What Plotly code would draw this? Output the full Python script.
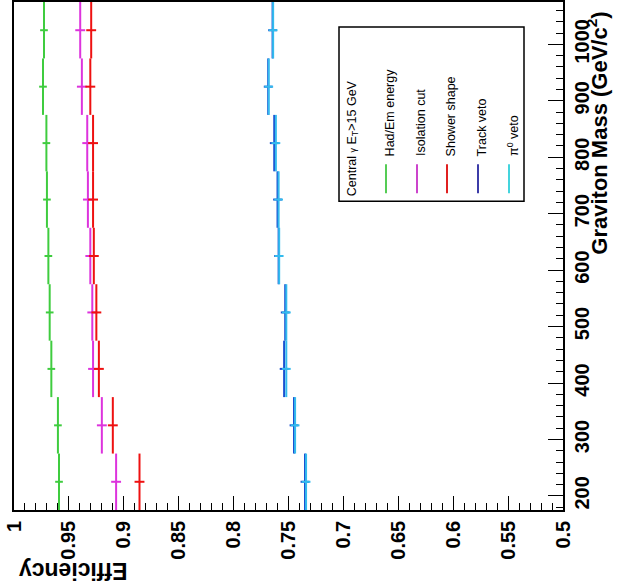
import plotly.graph_objects as go

# Graviton mass bins (GeV/c^2): bin centres and half-width
mass_centers = [225, 325, 425, 525, 625, 725, 825, 925, 1025]
bin_half_width = 50
mass_range = [175, 1075]
mass_ticks = [200, 300, 400, 500, 600, 700, 800, 900, 1000]
mass_ticktext = ["200", "300", "400", "500", "600", "700", "800", "900", "1000"]

eff_ticks = [1.0, 0.95, 0.9, 0.85, 0.8, 0.75, 0.7, 0.65, 0.6, 0.55, 0.5]
eff_ticktext = ["1", "0.95", "0.9", "0.85", "0.8", "0.75", "0.7", "0.65", "0.6", "0.55", "0.5"]

# Cumulative cut efficiencies per mass bin
had_em = [0.959, 0.960, 0.966, 0.9675, 0.9687, 0.970, 0.9705, 0.9736, 0.9727]
had_em_err = [0.0035] * 9
isolation = [0.907, 0.920, 0.928, 0.9287, 0.9305, 0.9327, 0.9333, 0.9382, 0.9397]
isolation_err = [0.0045] * 9
shower = [0.8857, 0.910, 0.9227, 0.925, 0.9273, 0.928, 0.928, 0.9305, 0.9297]
shower_err = [0.0045] * 9
track_veto = [0.735, 0.745, 0.754, 0.753, 0.759, 0.760, 0.763, 0.7685, 0.7645]
track_err = [0.004] * 9
pi0_veto = [0.734, 0.744, 0.752, 0.752, 0.7585, 0.759, 0.7615, 0.768, 0.764]
pi0_err = [0.004] * 9

series = [
    ("Had/Em energy", had_em, had_em_err, "#3fcc3f"),
    ("Isolation cut", isolation, isolation_err, "#dd33dd"),
    ("Shower shape", shower, shower_err, "#ee1111"),
    ("Track veto", track_veto, track_err, "#1a50d0"),
    ("π<sup>0</sup> veto", pi0_veto, pi0_err, "#33bbee"),
]
legend_colors = ["#55cc55", "#cc44cc", "#e02020", "#3c3ca8", "#44d4dd"]

fig = go.Figure()
for name, vals, errs, col in series:
    fig.add_trace(go.Scatter(
        x=vals, y=mass_centers, mode="markers", name=name,
        marker=dict(size=1, color=col, opacity=0),
        error_x=dict(type="data", array=errs, color=col, thickness=2, width=0),
        error_y=dict(type="data", array=[bin_half_width] * len(vals),
                     color=col, thickness=2, width=0),
        showlegend=False,
    ))

bold = dict(family="Liberation Sans", size=20, color="black", weight="bold")

fig.update_layout(
    width=621, height=586,
    margin=dict(l=14, r=58, t=0, b=76),
    paper_bgcolor="white", plot_bgcolor="white",
    xaxis=dict(
        range=[1.0, 0.5], tickmode="array", tickvals=eff_ticks, ticktext=eff_ticktext,
        tickangle=-90, tickfont=bold, ticks="inside", ticklen=14, tickwidth=1.2,
        tickcolor="black", ticklabelstandoff=1,
        minor=dict(tickmode="linear", tick0=0.5, dtick=0.01, ticks="inside",
                   ticklen=7, tickwidth=1.2, tickcolor="black"),
        showgrid=False, zeroline=False, showline=True, linecolor="black",
        linewidth=1.5, mirror=True,
    ),
    yaxis=dict(
        range=mass_range, side="right", tickmode="array", tickvals=mass_ticks,
        ticktext=mass_ticktext, tickangle=-90, tickfont=bold, ticks="inside",
        ticklen=15, tickwidth=1.2, tickcolor="black", ticklabelstandoff=0,
        minor=dict(tickmode="linear", tick0=200, dtick=20, ticks="inside",
                   ticklen=7, tickwidth=1.2, tickcolor="black"),
        showgrid=False, zeroline=False, showline=True, linecolor="black",
        linewidth=1.5, mirror=True,
    ),
)

# Axis titles
fig.add_annotation(text="Efficiency", xref="paper", yref="paper",
                   x=0.005, y=-0.12, xanchor="left", yanchor="middle",
                   textangle=180, showarrow=False,
                   font=dict(family="Liberation Sans", size=23, color="black", weight="bold"))
fig.add_annotation(text="Graviton Mass (GeV/c<sup>2</sup>)", xref="paper", yref="paper",
                   x=1.063, y=0.985, xanchor="center", yanchor="top",
                   textangle=-90, showarrow=False,
                   font=dict(family="Liberation Sans", size=22, color="black", weight="bold"))

# Legend box
def px_x(p):
    return (p - 14) / 549.0


def px_y(p):
    return (510 - p) / 510.0


fig.add_shape(type="rect", xref="paper", yref="paper",
              x0=px_x(339), x1=px_x(524), y0=px_y(200), y1=px_y(25),
              line=dict(color="black", width=1.5), fillcolor="white", layer="below")

legend_font = dict(family="Liberation Sans", size=12.5, color="black")
fig.add_annotation(text="Central <span style='font-size:9px'>γ</span> E<sub>T</sub>>15 GeV",
                   xref="paper", yref="paper", x=px_x(353), y=px_y(197),
                   xanchor="center", yanchor="bottom", textangle=-90,
                   showarrow=False, font=legend_font)

entry_x = [386, 417, 447, 478, 509]
for (name, _, _, _), lc, ex in zip(series, legend_colors, entry_x):
    fig.add_shape(type="line", xref="paper", yref="paper",
                  x0=px_x(ex), x1=px_x(ex), y0=px_y(192), y1=px_y(163),
                  line=dict(color=lc, width=2))
    fig.add_annotation(text=name, xref="paper", yref="paper",
                       x=px_x(ex + 4), y=px_y(157), xanchor="center", yanchor="bottom",
                       textangle=-90, showarrow=False, font=legend_font)

fig.write_html("out.html")
